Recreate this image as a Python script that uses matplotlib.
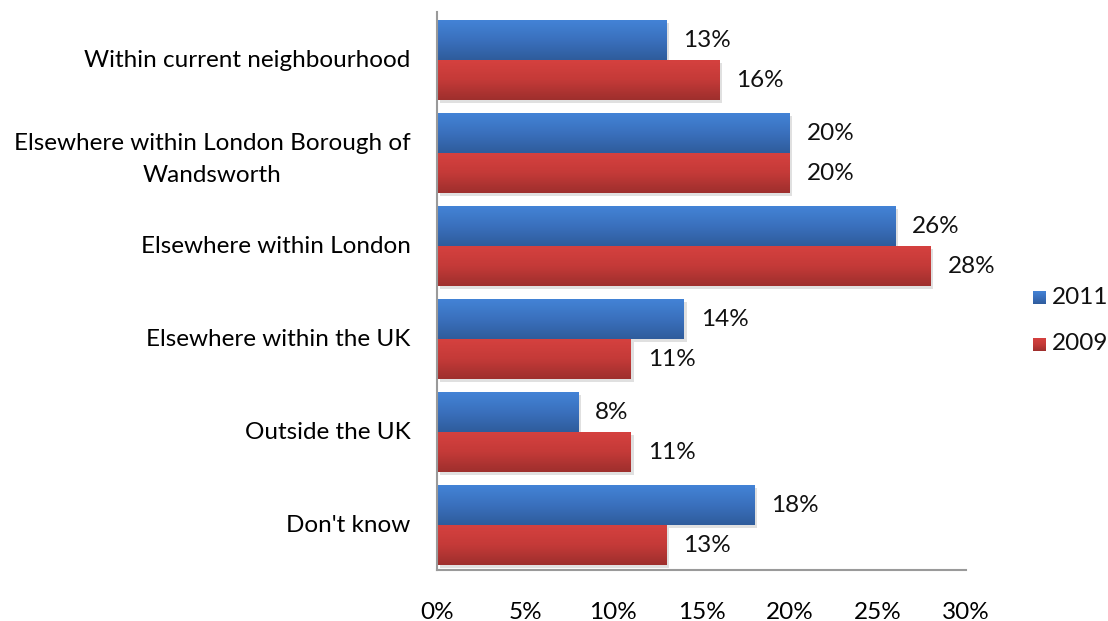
import numpy as np
import matplotlib.pyplot as plt
from matplotlib.patches import Rectangle
import matplotlib.colors as mcolors

categories = ["Within current neighbourhood",
              "Elsewhere within London Borough of\nWandsworth",
              "Elsewhere within London",
              "Elsewhere within the UK",
              "Outside the UK",
              "Don't know"]
values_2011 = [13, 20, 26, 14, 8, 18]
values_2009 = [16, 20, 28, 11, 11, 13]
series_names = ["2011", "2009"]
x_ticks = [0, 5, 10, 15, 20, 25, 30]

plt.rcParams['font.family'] = ['Lato', 'DejaVu Sans']
FS = 17.5

W, H = 1108, 621
fig = plt.figure(figsize=(W / 100, H / 100), dpi=100)
ax = fig.add_axes([437 / W, 51 / H, (966 - 437) / W, (570 - 12) / H])

n = len(categories)
bar_h = 0.43

blue_cmap = mcolors.LinearSegmentedColormap.from_list("b", ["#4383d6", "#3a70bd", "#2f5c9c"])
red_cmap = mcolors.LinearSegmentedColormap.from_list("r", ["#d5413f", "#c43a38", "#9e2f2d"])
grad = np.linspace(0, 1, 64).reshape(-1, 1)


def gradient_bar(x, y0, h, cmap):
    # soft drop shadow
    sh = Rectangle((0.15, y0 + 0.03), x, h, facecolor="#000000", alpha=0.12,
                   edgecolor="none", zorder=1)
    ax.add_patch(sh)
    ax.imshow(grad, extent=(0, x, y0 + h, y0), aspect="auto", cmap=cmap,
              zorder=2, interpolation="bilinear")


for i in range(n):
    yb = i - bar_h + 0.02
    yr = i + 0.02
    gradient_bar(values_2011[i], yb, bar_h, blue_cmap)
    gradient_bar(values_2009[i], yr, bar_h, red_cmap)
    ax.text(values_2011[i] + 0.95, yb + bar_h / 2, f"{values_2011[i]}%",
            va="center", ha="left", fontsize=FS, color="#111111")
    ax.text(values_2009[i] + 0.95, yr + bar_h / 2, f"{values_2009[i]}%",
            va="center", ha="left", fontsize=FS, color="#111111")

ax.set_xlim(0, 30)
ax.set_ylim(n - 0.5, -0.5)
ax.set_xticks(x_ticks)
ax.set_xticklabels([f"{t}%" for t in x_ticks], fontsize=FS)
ax.set_yticks(range(n))
ax.set_yticklabels(categories, fontsize=FS)
ax.tick_params(axis="y", length=0, pad=19)
ax.tick_params(axis="x", length=0, pad=23)
for lbl in ax.get_yticklabels():
    lbl.set_ha("right")
    lbl.set_multialignment("center")
    lbl.set_linespacing(1.65)

for s in ["top", "right"]:
    ax.spines[s].set_visible(False)
for s in ["left", "bottom"]:
    ax.spines[s].set_color("#9a9a9a")
    ax.spines[s].set_linewidth(1.5)

# legend
for k, (name, cmap) in enumerate(zip(series_names, [blue_cmap, red_cmap])):
    yc = 1 - (297 + k * 47) / H
    lax = fig.add_axes([1033 / W, yc - 7 / H, 13 / W, 13 / H])
    lax.imshow(grad, aspect="auto", cmap=cmap, interpolation="bilinear")
    lax.axis("off")
    fig.text(1052 / W, yc, name, fontsize=FS, va="center", ha="left", color="#111111")

fig.savefig("out.png", dpi=100)
